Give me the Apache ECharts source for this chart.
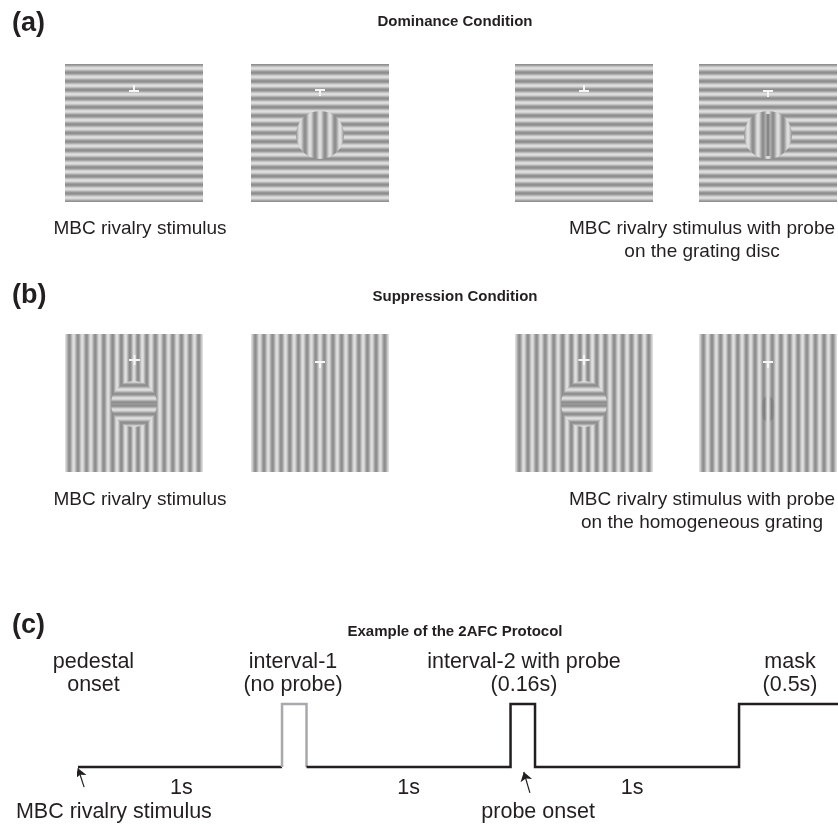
<!DOCTYPE html>
<html>
<head>
<meta charset="utf-8">
<script src="https://cdn.jsdelivr.net/npm/echarts@6/dist/echarts.min.js"></script>
<style>
  html, body { margin: 0; padding: 0; background: #fff; }
  #main { width: 838px; height: 824px; }
</style>
</head>
<body>
<div id="main"></div>
<script>
// ---- protocol timeline (seconds, stimulus level) ----
var pedestalT = [0, 1];
var pedestalLevel = [0, 0];
var interval1T = [1, 1, 1.12, 1.12];
var interval1Level = [0, 1, 1, 0];
var restT = [1.12, 2.12, 2.12, 2.24, 2.24, 3.24, 3.24, 3.725];
var restLevel = [0, 0, 1, 1, 0, 0, 1, 1];

var eventNames = ['pedestal\nonset', 'interval-1\n(no probe)', 'interval-2 with probe\n(0.16s)', 'mask\n(0.5s)'];
var eventT = [0.076, 1.054, 2.186, 3.49];
var gapNames = ['1s', '1s', '1s'];
var gapT = [0.507, 1.62, 2.716];
var arrowNames = ['MBC rivalry stimulus', 'probe onset'];
var arrowTailT = [0.03, 2.215];
var arrowHeadT = [0, 2.185];
var arrowLabelT = [0.176, 2.255];

var INK = '#231f20';
var FONT = '"Liberation Sans", Arial, sans-serif';

function zip(xs, ys) {
  return xs.map(function (x, i) { return [x, ys[i]]; });
}

// ---- grating helpers ----
var SIZE = 138;
var PERIOD = SIZE / 16;
var DISC_PERIOD = 10;
var MEAN = 182, AMP = 43;
function gray(v) {
  var g = Math.round(v);
  return 'rgb(' + g + ',' + g + ',' + g + ')';
}
function shadeH(d) { return gray(MEAN - AMP * Math.cos(2 * Math.PI * d / PERIOD)); }
function shadeV(d) { return gray(MEAN + AMP * Math.cos(2 * Math.PI * d / PERIOD)); }
function grad(horizontal, n, f) {
  var s = [];
  for (var i = 0; i <= n; i++) s.push({ offset: i / n, color: f(i) });
  return { type: 'linear', x: 0, y: 0, x2: horizontal ? 1 : 0, y2: horizontal ? 0 : 1, colorStops: s };
}

var els = [];
function rect(x, y, w, h, fill) {
  els.push({ type: 'rect', shape: { x: x, y: y, width: w, height: h }, style: { fill: fill }, silent: true });
}
function text(x, y, s, font, align) {
  els.push({ type: 'text', x: x, y: y, silent: true,
    style: { text: s, font: font, fill: INK, textAlign: align || 'center', textVerticalAlign: 'middle' } });
}

// horizontal grating square
function hSquare(x0, y0) {
  rect(x0, y0, SIZE, SIZE, grad(false, SIZE, function (i) { return shadeH(i); }));
}
// vertical grating square (light bar in the centre column)
function vSquare(x0, y0) {
  rect(x0, y0, SIZE, SIZE, grad(true, SIZE, function (i) { return shadeV(i - SIZE / 2); }));
}
// vertical-grating disc on horizontal surround
function vDisc(cx, cy, r) {
  els.push({ type: 'circle', shape: { cx: cx, cy: cy, r: r }, silent: true,
    style: { fill: grad(true, 2 * r, function (i) {
      return gray(MEAN + AMP * Math.cos(2 * Math.PI * (i - r) / DISC_PERIOD));
    }) } });
}
// horizontal disc in a vertical surround, with the wrap-around halo
function hDiscHalo(x0, y0, cx, cy, r) {
  for (var d = r; d > 0; d -= 0.5) {
    var c = shadeV(d);
    rect(cx - d, y0, 2 * d, cy - (r - d) - y0, c);
    rect(cx - d, cy + (r - d), 2 * d, y0 + SIZE - (cy + r - d), c);
  }
  els.push({ type: 'circle', shape: { cx: cx, cy: cy, r: r }, silent: true,
    style: { fill: grad(false, 2 * r, function (j) { return shadeV(r - Math.abs(j - r)); }) } });
}
// fixation / probe marks
function mark(kind, cx, y) {
  var w = '#f6f6f6';
  if (kind === 'up') { rect(cx - 5, y, 10, 2, w); rect(cx - 1, y - 5, 2, 5, w); }
  if (kind === 'down') { rect(cx - 5, y, 10, 2, w); rect(cx - 1, y + 2, 2, 5, w); }
  if (kind === 'plus') { rect(cx - 5.5, y, 11, 2, w); rect(cx - 1, y - 4, 2, 10, w); }
}

var sqX = [65, 251, 515, 699];
var topA = 64, topB = 334;
function cxOf(i) { return sqX[i] + SIZE / 2; }

// row (a): dominance
hSquare(sqX[0], topA); mark('up', cxOf(0), 90);
hSquare(sqX[1], topA); vDisc(cxOf(1), 135, 24); mark('down', cxOf(1), 89);
hSquare(sqX[2], topA); mark('up', cxOf(2), 90);
hSquare(sqX[3], topA); vDisc(cxOf(3), 135, 24); mark('down', cxOf(3), 90);
// probe on the disc: darker centre bar
rect(cxOf(3) - 3, 114, 6, 42, { type: 'linear', x: 0, y: 0, x2: 1, y2: 0, colorStops: [
  { offset: 0, color: 'rgba(90,90,90,0)' }, { offset: 0.5, color: 'rgba(70,70,70,0.7)' }, { offset: 1, color: 'rgba(90,90,90,0)' }] });

// row (b): suppression
vSquare(sqX[0], topB); hDiscHalo(sqX[0], topB, cxOf(0), 404, 23); mark('plus', cxOf(0) + 0.5, 359);
vSquare(sqX[1], topB); mark('down', cxOf(1), 361);
vSquare(sqX[2], topB); hDiscHalo(sqX[2], topB, cxOf(2), 404, 23); mark('plus', cxOf(2), 359);
vSquare(sqX[3], topB); mark('down', cxOf(3), 361);
// faint probe on the homogeneous grating
els.push({ type: 'ellipse', shape: { cx: cxOf(3), cy: 409, rx: 7, ry: 13 }, silent: true,
  style: { fill: { type: 'linear', x: 0, y: 0, x2: 1, y2: 0, colorStops: [
    { offset: 0, color: 'rgba(110,110,110,0)' }, { offset: 0.25, color: 'rgba(100,100,100,0.45)' },
    { offset: 0.5, color: 'rgba(245,245,245,0.6)' }, { offset: 0.75, color: 'rgba(100,100,100,0.45)' },
    { offset: 1, color: 'rgba(110,110,110,0)' }] } } });

// panel letters, titles and captions
var letterFont = 'bold 27px ' + FONT;
var titleFont = 'bold 15px ' + FONT;
var capFont = '19px ' + FONT;
text(12, 24, '(a)', letterFont, 'left');
text(455, 22, 'Dominance Condition', titleFont);
text(140, 229, 'MBC rivalry stimulus', capFont);
text(702, 229, 'MBC rivalry stimulus with probe', capFont);
text(702, 252, 'on the grating disc', capFont);

text(12, 296, '(b)', letterFont, 'left');
text(455, 297, 'Suppression Condition', titleFont);
text(140, 500, 'MBC rivalry stimulus', capFont);
text(702, 500, 'MBC rivalry stimulus with probe', capFont);
text(702, 523, 'on the homogeneous grating', capFont);

text(12, 626, '(c)', letterFont, 'left');
text(455, 632, 'Example of the 2AFC Protocol', titleFont);

var chart = echarts.init(document.getElementById('main'), null, { renderer: 'canvas' });
var lineStyle = { color: INK, width: 2.5, join: 'miter', cap: 'butt' };
var labelBase = { show: true, position: 'inside', formatter: '{b}', fontSize: 21.5, color: INK, fontFamily: FONT, opacity: 1 };
chart.setOption({
  animation: false,
  grid: { left: 78, top: 641, width: 760, height: 182.7 },
  xAxis: { type: 'value', min: 0, max: 3.725, show: false },
  yAxis: { type: 'value', min: -0.9, max: 2, show: false },
  series: [
    { type: 'line', data: zip(pedestalT, pedestalLevel), symbol: 'none', clip: false, lineStyle: lineStyle },
    { type: 'line', data: zip(interval1T, interval1Level), symbol: 'none', clip: false,
      lineStyle: { color: '#a7a9ac', width: 2.5, join: 'miter' } },
    { type: 'line', data: zip(restT, restLevel), symbol: 'none', clip: false, lineStyle: lineStyle },
    { type: 'scatter', symbolSize: 0, silent: true, itemStyle: { opacity: 1 },
      data: eventT.map(function (t, i) { return { value: [t, 1.484], name: eventNames[i] }; }),
      label: Object.assign({}, labelBase, { lineHeight: 23 }) },
    { type: 'scatter', symbolSize: 0, silent: true, itemStyle: { opacity: 1 },
      data: gapT.map(function (t, i) { return { value: [t, -0.333], name: gapNames[i] }; }),
      label: labelBase },
    { type: 'scatter', symbolSize: 0, silent: true, itemStyle: { opacity: 1 },
      data: arrowLabelT.map(function (t, i) { return { value: [t, -0.714], name: arrowNames[i] }; }),
      label: labelBase },
    { type: 'lines', coordinateSystem: 'cartesian2d', silent: true,
      symbol: ['none', 'arrow'], symbolSize: 9,
      lineStyle: { color: INK, width: 1.2, opacity: 1 },
      data: arrowTailT.map(function (t, i) {
        return { coords: [[t, i === 0 ? -0.32 : -0.41], [arrowHeadT[i], i === 0 ? -0.02 : -0.08]] };
      }) }
  ],
  graphic: { elements: els }
});
</script>
</body>
</html>
